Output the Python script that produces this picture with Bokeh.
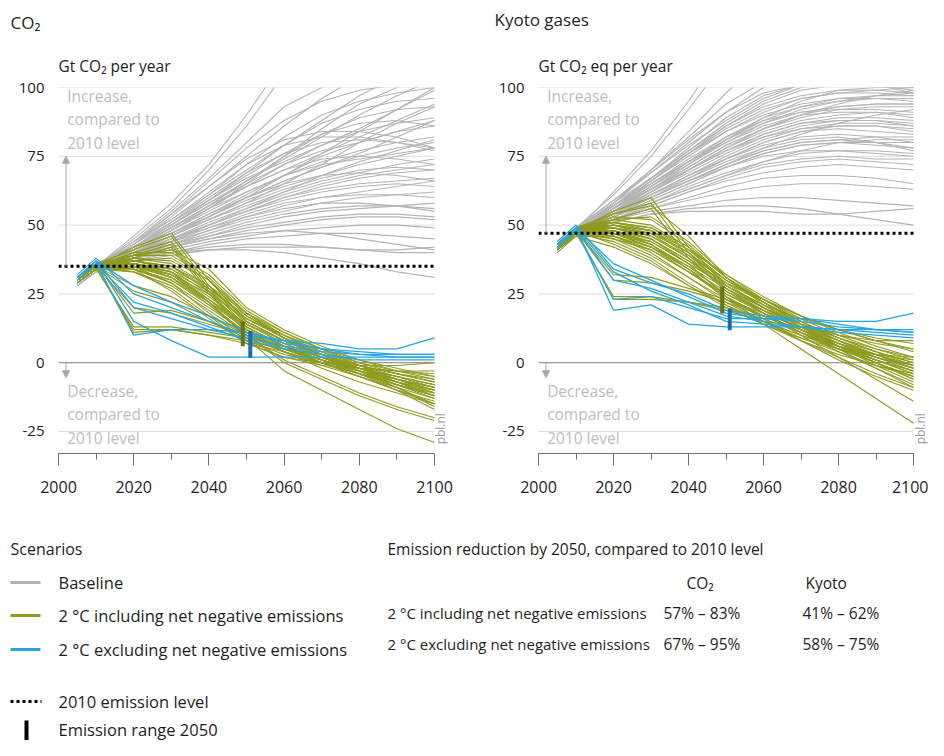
import math
from bokeh.plotting import figure
from bokeh.layouts import row, column
from bokeh.models import Range1d, Label, Arrow, NormalHead, FixedTicker
from bokeh.embed import file_html
from bokeh.resources import INLINE

# ---------------- data ----------------
YEARS = [2005, 2010, 2020, 2030, 2040, 2050, 2060, 2070, 2080, 2090, 2100]
X_TICKS = [2000, 2020, 2040, 2060, 2080, 2100]
X_MINOR = [2010, 2030, 2050, 2070, 2090]
Y_TICKS = [-25, 0, 25, 50, 75, 100]
Y_LABELS = ["-25", "0", "25", "50", "75", "100"]

CO2_2010 = 35
KYOTO_2010 = 47

CO2_BASELINE = [
    [30, 35, 46, 58, 72, 90, 110, 125, 135, 140, 145],
    [30, 35, 45, 56, 70, 86, 105, 120, 130, 138, 142],
    [29, 34, 43, 53, 64, 75, 86, 96, 104, 110, 115],
    [30, 35, 44, 52, 61, 70, 79, 88, 97, 104, 108],
    [29, 34, 42, 50, 58, 66, 74, 82, 90, 97, 103],
    [30, 35, 43, 51, 59, 67, 73, 79, 85, 92, 99],
    [28, 33, 41, 49, 57, 64, 70, 76, 82, 88, 94],
    [29, 34, 42, 50, 58, 65, 72, 77, 80, 84, 88],
    [30, 35, 42, 49, 56, 62, 68, 73, 77, 80, 82],
    [29, 34, 41, 48, 55, 62, 68, 72, 74, 76, 78],
    [30, 35, 41, 47, 53, 59, 64, 68, 72, 75, 78],
    [30, 35, 42, 49, 57, 64, 70, 74, 75, 74, 72],
    [29, 34, 40, 46, 52, 58, 63, 67, 70, 71, 70],
    [30, 35, 41, 47, 54, 60, 65, 68, 69, 68, 66],
    [28, 33, 39, 45, 51, 56, 61, 65, 68, 70, 72],
    [29, 34, 40, 45, 50, 55, 59, 62, 64, 65, 64],
    [30, 35, 40, 45, 50, 55, 60, 64, 67, 69, 70],
    [29, 34, 39, 44, 49, 54, 58, 60, 61, 61, 60],
    [30, 35, 40, 44, 48, 52, 55, 58, 60, 61, 62],
    [28, 33, 38, 43, 48, 53, 56, 58, 58, 57, 55],
    [29, 34, 39, 43, 47, 51, 54, 56, 57, 57, 56],
    [30, 35, 39, 43, 46, 49, 51, 53, 54, 54, 53],
    [29, 34, 38, 42, 45, 48, 50, 52, 53, 53, 52],
    [30, 34, 38, 41, 44, 46, 48, 49, 50, 50, 49],
    [29, 33, 37, 40, 43, 45, 46, 47, 47, 46, 45],
    [30, 35, 39, 42, 45, 47, 48, 47, 45, 43, 41],
    [29, 34, 38, 40, 42, 43, 43, 42, 41, 40, 40],
    [30, 35, 38, 40, 41, 41, 40, 38, 36, 33, 31],
    [29, 34, 37, 39, 41, 42, 42, 42, 41, 41, 42],
    [30, 35, 41, 48, 56, 65, 75, 85, 94, 100, 105],
    [29, 34, 42, 51, 61, 72, 82, 90, 95, 98, 100],
    [30, 35, 40, 46, 53, 60, 68, 76, 84, 92, 100],
    [29, 34, 40, 46, 52, 58, 65, 72, 80, 87, 93],
    [30, 35, 41, 47, 53, 60, 66, 71, 76, 82, 88],
    [28, 33, 38, 44, 50, 56, 62, 68, 73, 77, 81],
    [30, 35, 43, 52, 62, 72, 79, 82, 82, 80, 77],
    [29, 34, 42, 51, 60, 69, 76, 80, 81, 80, 78],
    [30, 35, 44, 54, 64, 74, 81, 84, 84, 82, 78],
    [30, 35, 44, 55, 67, 80, 93, 100, 104, 106, 107],
    [29, 34, 43, 54, 66, 78, 88, 95, 99, 101, 102],
    [30, 35, 42, 50, 59, 69, 79, 87, 92, 95, 96],
    [29, 34, 41, 49, 57, 66, 75, 83, 89, 92, 93],
    [30, 35, 42, 50, 59, 68, 76, 83, 87, 88, 86],
    [29, 34, 41, 48, 56, 64, 72, 79, 84, 87, 89],
    [30, 35, 41, 47, 54, 61, 68, 75, 80, 84, 86],
    [29, 34, 40, 46, 53, 60, 66, 71, 75, 78, 80],
    [30, 35, 40, 46, 52, 57, 62, 66, 69, 72, 74],
    [29, 34, 39, 45, 50, 55, 60, 63, 65, 66, 67],
    [30, 35, 40, 45, 49, 53, 57, 60, 62, 64, 66],
    [28, 33, 38, 42, 46, 50, 53, 55, 56, 57, 58],
]

CO2_INCL = [
    [30, 35, 42, 47, 30, 15, 8, 3, -2, -7, -12],
    [31, 36, 41, 46, 28, 14, 7, 2, -3, -8, -13],
    [30, 35, 40, 44, 27, 13, 6, 1, -4, -9, -15],
    [30, 35, 12, 12, 10, 8, 5, 1, -3, -6, -9],
    [29, 34, 13, 13, 11, 9, 6, 2, -2, -5, -8],
    [30, 36, 11, 12, 10, 7, 4, 0, -4, -8, -12],
    [31, 36, 18, 19, 15, 10, 6, 2, -2, -5, -8],
    [30, 35, 20, 18, 14, 10, 6, 2, -1, -4, -7],
    [30, 35, 36, 33, 24, 14, 7, 2, -2, -5, -8],
    [31, 36, 37, 35, 26, 15, 8, 3, -1, -4, -7],
    [30, 35, 35, 31, 22, 12, 5, 0, -4, -8, -11],
    [29, 34, 35, 32, 25, 16, 9, 3, -2, -6, -10],
    [30, 35, 34, 29, 20, 11, 5, 0, -4, -7, -10],
    [31, 36, 38, 36, 28, 16, 9, 4, 0, -3, -6],
    [30, 35, 36, 34, 27, 17, 10, 4, -1, -5, -9],
    [29, 34, 33, 28, 19, 10, 4, -1, -5, -9, -13],
    [30, 35, 37, 34, 25, 13, 6, 1, -3, -7, -10],
    [31, 36, 36, 32, 23, 12, 6, 1, -3, -6, -9],
    [30, 35, 34, 30, 21, 11, 4, -2, -7, -11, -15],
    [29, 34, 36, 33, 23, 13, 6, 0, -5, -10, -14],
    [30, 35, 38, 37, 30, 18, 10, 3, -3, -9, -16],
    [30, 35, 36, 33, 22, 9, -3, -10, -17, -24, -29],
    [30, 35, 36, 32, 22, 10, 0, -6, -12, -17, -21],
    [29, 34, 35, 31, 21, 10, 1, -5, -11, -16, -20],
    [31, 36, 39, 39, 31, 18, 9, 2, -3, -8, -12],
    [30, 35, 40, 40, 32, 19, 11, 5, 0, -4, -7],
    [30, 35, 39, 41, 34, 20, 12, 6, 1, -3, -5],
    [29, 34, 37, 38, 30, 17, 9, 3, -1, -4, -6],
    [30, 35, 35, 29, 18, 8, 3, 0, -2, -3, -4],
    [30, 35, 33, 27, 17, 7, 2, -1, -2, -3, -3],
    [31, 36, 34, 26, 16, 7, 2, 0, -1, -1, 0],
    [30, 35, 39, 43, 26, 12, 6, 2, -2, -6, -9],
    [29, 34, 38, 42, 25, 11, 5, 1, -3, -7, -11],
    [30, 35, 28, 24, 17, 10, 5, 1, -3, -6, -10],
    [30, 35, 26, 22, 15, 9, 4, 0, -4, -8, -12],
    [31, 36, 37, 35, 27, 16, 10, 5, 1, -2, -5],
    [30, 35, 36, 33, 26, 15, 8, 2, -4, -10, -17],
    [29, 34, 34, 30, 22, 13, 6, 0, -5, -10, -15],
    [30, 35, 37, 35, 28, 18, 11, 5, -1, -6, -11],
    [30, 35, 36, 31, 23, 14, 8, 3, -2, -7, -12],
]

CO2_EXCL = [
    [31, 37, 15, 8, 2, 2, 2, 2, 2, 2, 2],
    [30, 36, 10, 12, 12, 11, 7, 5, 4, 3, 3],
    [32, 38, 25, 20, 15, 10, 8, 7, 5, 5, 9],
    [31, 37, 28, 22, 17, 11, 8, 5, 3, 2, 2],
    [30, 36, 22, 18, 13, 8, 5, 3, 1, 1, 1],
    [31, 37, 20, 16, 12, 9, 6, 4, 3, 3, 3],
]

KYOTO_BASELINE = [
    [42, 48, 62, 77, 95, 115, 130, 140, 145, 148, 150],
    [43, 49, 61, 75, 92, 110, 125, 135, 140, 143, 145],
    [41, 47, 58, 70, 84, 98, 110, 118, 122, 124, 125],
    [42, 48, 58, 69, 80, 91, 100, 106, 110, 112, 113],
    [43, 49, 59, 69, 79, 88, 96, 101, 104, 105, 104],
    [41, 47, 56, 66, 76, 86, 94, 99, 101, 101, 100],
    [42, 48, 57, 67, 77, 87, 95, 100, 102, 101, 98],
    [42, 48, 57, 66, 75, 84, 91, 96, 98, 98, 97],
    [41, 47, 56, 65, 74, 82, 89, 93, 95, 96, 96],
    [43, 49, 58, 67, 76, 84, 90, 94, 96, 96, 95],
    [42, 48, 56, 64, 72, 80, 87, 92, 95, 97, 98],
    [41, 47, 55, 63, 71, 79, 85, 89, 92, 93, 93],
    [42, 48, 55, 62, 70, 78, 84, 88, 90, 91, 90],
    [43, 49, 57, 65, 73, 80, 86, 90, 91, 91, 89],
    [42, 47, 54, 62, 70, 77, 83, 87, 89, 89, 88],
    [41, 47, 54, 61, 68, 75, 81, 85, 87, 87, 86],
    [42, 48, 55, 62, 69, 76, 82, 86, 88, 88, 86],
    [42, 48, 54, 61, 68, 74, 79, 82, 83, 82, 80],
    [41, 47, 53, 60, 66, 72, 77, 80, 81, 80, 78],
    [43, 49, 55, 61, 67, 73, 78, 81, 82, 80, 77],
    [42, 48, 54, 60, 66, 71, 75, 77, 77, 76, 75],
    [41, 46, 52, 58, 64, 69, 73, 76, 77, 77, 76],
    [42, 48, 53, 58, 63, 68, 72, 74, 75, 74, 74],
    [42, 47, 52, 57, 62, 66, 69, 71, 72, 71, 70],
    [41, 47, 52, 56, 60, 64, 67, 68, 68, 67, 65],
    [43, 48, 52, 56, 59, 62, 64, 65, 65, 64, 63],
    [42, 48, 52, 55, 57, 59, 60, 60, 59, 58, 57],
    [41, 47, 51, 54, 56, 57, 57, 56, 54, 52, 50],
    [42, 47, 51, 54, 55, 55, 55, 54, 54, 55, 56],
    [42, 48, 55, 63, 72, 81, 89, 95, 99, 100, 100],
    [41, 47, 56, 66, 76, 85, 92, 96, 98, 99, 100],
    [42, 48, 57, 67, 78, 89, 97, 101, 103, 102, 100],
    [43, 49, 56, 63, 70, 77, 82, 85, 86, 86, 85],
    [42, 48, 54, 60, 66, 72, 77, 80, 81, 82, 82],
    [41, 47, 53, 59, 65, 71, 76, 79, 80, 80, 80],
    [42, 48, 56, 64, 73, 82, 88, 91, 92, 92, 91],
    [42, 47, 55, 63, 71, 79, 85, 90, 94, 97, 99],
    [41, 47, 54, 60, 66, 72, 78, 83, 87, 90, 92],
    [42, 48, 58, 70, 82, 94, 102, 106, 108, 108, 107],
    [43, 49, 59, 70, 81, 91, 98, 101, 102, 101, 99],
    [42, 48, 57, 67, 77, 86, 93, 97, 99, 99, 98],
    [41, 47, 55, 64, 73, 81, 88, 93, 96, 97, 97],
    [42, 48, 56, 65, 73, 81, 87, 91, 93, 94, 94],
    [42, 47, 54, 62, 70, 78, 85, 90, 93, 94, 94],
    [43, 49, 56, 63, 70, 77, 83, 87, 88, 88, 87],
    [41, 47, 53, 60, 67, 74, 80, 84, 86, 86, 84],
    [42, 48, 54, 61, 68, 74, 80, 84, 85, 84, 83],
    [42, 48, 53, 59, 65, 71, 76, 79, 80, 79, 78],
    [41, 47, 52, 57, 62, 67, 71, 73, 74, 73, 72],
    [42, 48, 53, 58, 63, 68, 73, 77, 80, 81, 81],
]

KYOTO_INCL = [
    [42, 48, 55, 60, 42, 28, 20, 13, 7, 2, -2],
    [43, 49, 54, 58, 40, 27, 19, 12, 6, 1, -3],
    [41, 47, 52, 56, 38, 26, 18, 11, 5, 0, -5],
    [42, 48, 23, 23, 22, 20, 16, 11, 6, 2, -2],
    [41, 47, 24, 24, 22, 19, 15, 10, 5, 1, -3],
    [43, 49, 30, 29, 26, 22, 17, 12, 7, 3, -1],
    [42, 48, 32, 31, 27, 23, 18, 13, 8, 4, 0],
    [42, 48, 48, 44, 36, 28, 21, 14, 8, 3, -2],
    [43, 49, 50, 46, 38, 29, 22, 15, 9, 4, 0],
    [41, 47, 47, 42, 34, 26, 19, 12, 6, 1, -4],
    [42, 48, 49, 45, 37, 27, 20, 14, 9, 5, 2],
    [40, 46, 46, 41, 33, 24, 17, 11, 5, 0, -5],
    [42, 48, 51, 48, 40, 30, 22, 15, 9, 4, -1],
    [43, 49, 52, 50, 42, 31, 23, 16, 10, 5, 1],
    [41, 47, 48, 43, 35, 25, 18, 11, 4, -2, -8],
    [42, 48, 50, 47, 38, 27, 18, 10, 2, -6, -14],
    [42, 48, 49, 45, 36, 24, 14, 5, -4, -13, -22],
    [41, 47, 47, 43, 34, 24, 16, 8, 1, -5, -10],
    [43, 49, 48, 43, 34, 23, 15, 8, 2, -4, -9],
    [42, 48, 46, 40, 31, 22, 15, 9, 4, -1, -5],
    [42, 47, 44, 38, 29, 21, 14, 8, 3, -1, -4],
    [41, 47, 45, 41, 33, 25, 19, 14, 10, 7, 5],
    [42, 48, 47, 44, 36, 28, 21, 16, 12, 9, 7],
    [43, 49, 51, 49, 41, 30, 23, 17, 12, 8, 5],
    [42, 48, 53, 52, 43, 31, 22, 14, 8, 2, -3],
    [41, 47, 50, 48, 39, 28, 20, 13, 6, 0, -6],
    [42, 48, 46, 42, 35, 27, 20, 14, 10, 8, 8],
    [42, 48, 43, 37, 28, 20, 14, 9, 5, 3, 2],
    [41, 46, 42, 36, 28, 21, 15, 10, 6, 3, 1],
    [43, 49, 49, 46, 39, 30, 22, 14, 7, 1, -4],
    [42, 48, 52, 53, 44, 32, 23, 15, 8, 3, -2],
    [42, 48, 54, 57, 46, 31, 21, 13, 6, 0, -6],
    [41, 47, 48, 45, 37, 29, 23, 17, 12, 8, 4],
    [42, 48, 50, 48, 41, 32, 24, 17, 11, 6, 2],
    [43, 49, 47, 42, 33, 24, 17, 11, 6, 2, -1],
    [42, 48, 45, 39, 31, 23, 17, 12, 7, 3, -1],
    [41, 47, 49, 47, 40, 29, 20, 12, 5, -2, -9],
    [42, 48, 51, 49, 42, 31, 22, 14, 6, -1, -7],
]

KYOTO_EXCL = [
    [43, 49, 19, 21, 14, 13, 13, 13, 12, 12, 11],
    [42, 48, 23, 24, 20, 16, 16, 16, 14, 12, 11],
    [44, 50, 34, 29, 25, 19, 17, 16, 15, 15, 18],
    [43, 49, 36, 30, 24, 18, 16, 15, 13, 12, 12],
    [42, 48, 30, 27, 22, 17, 15, 13, 12, 11, 10],
    [43, 49, 33, 26, 21, 15, 14, 13, 11, 10, 9],
]

# 2050 emission ranges: [year, low, high]
CO2_RANGE_INCL = [2049, 6.0, 15.0]
CO2_RANGE_EXCL = [2051, 1.8, 11.5]
KYOTO_RANGE_INCL = [2049, 17.9, 27.7]
KYOTO_RANGE_EXCL = [2051, 11.8, 19.7]

SCENARIOS = ["Baseline", "2 °C including net negative emissions", "2 °C excluding net negative emissions"]
TABLE_TITLE = "Emission reduction by 2050, compared to 2010 level"
TABLE_COLS = ["CO₂", "Kyoto"]
TABLE_ROWS = ["2 °C including net negative emissions", "2 °C excluding net negative emissions"]
CO2_REDUCTION = ["57% – 83%", "67% – 95%"]
KYOTO_REDUCTION = ["41% – 62%", "58% – 75%"]

# ---------------- style ----------------
FONT = "Open Sans"
GRAY = "#b4b4b4"
GREEN = "#8e9a1e"
BLUE = "#28a5dd"
GREEN_DARK = "#6a7412"
BLUE_DARK = "#1a6eae"
NOTE_C = "#bdbdbd"
ARROW_C = "#a8a8a8"
TEXT_C = "#1e1e1e"


def lab(p, x, y, text, size="15px", color=TEXT_C, align="left", baseline="middle", angle=0.0):
    p.add_layout(Label(x=x, y=y, text=text, text_font=FONT, text_font_size=size,
                       text_color=color, text_align=align, text_baseline=baseline, angle=angle))


def blank(width, height):
    f = figure(width=width, height=height, x_range=Range1d(0, width), y_range=Range1d(0, height),
               output_backend="svg", toolbar_location=None,
               x_axis_location=None, y_axis_location=None,
               min_border_left=0, min_border_right=0, min_border_top=0, min_border_bottom=0)
    f.grid.visible = False
    f.outline_line_color = None
    return f


def panel(width, bl, x_end, base, incl, excl, level, rincl, rexcl, pbl_x):
    p = figure(width=width, height=430, x_range=Range1d(2000, x_end), y_range=Range1d(-33, 100),
               output_backend="svg", toolbar_location=None,
               min_border_left=bl, min_border_right=0, min_border_top=9, min_border_bottom=55)
    p.outline_line_color = None
    p.grid.visible = False

    # axes
    p.xaxis.ticker = FixedTicker(ticks=X_TICKS, minor_ticks=X_MINOR)
    p.xaxis.bounds = (2000, 2100)
    p.xaxis.axis_line_color = "#6e6e6e"
    p.xaxis.major_tick_line_color = "#6e6e6e"
    p.xaxis.minor_tick_line_color = "#6e6e6e"
    p.xaxis.major_tick_out = 12
    p.xaxis.major_tick_in = 0
    p.xaxis.minor_tick_out = 6
    p.xaxis.minor_tick_in = 0
    p.xaxis.major_label_standoff = 15
    p.xaxis.major_label_text_font_size = "16px"
    p.yaxis.ticker = FixedTicker(ticks=Y_TICKS)
    p.yaxis.major_label_overrides = {t: s for t, s in zip(Y_TICKS, Y_LABELS)}
    p.yaxis.axis_line_color = None
    p.yaxis.major_tick_line_color = None
    p.yaxis.minor_tick_line_color = None
    p.yaxis.major_label_standoff = 8
    p.yaxis.major_label_text_font_size = "15px"
    for ax in (p.xaxis, p.yaxis):
        ax.major_label_text_font = FONT
        ax.major_label_text_color = TEXT_C

    # grid lines (only across 2000-2100)
    p.segment(x0=[2000] * len(Y_TICKS), y0=Y_TICKS, x1=[2100] * len(Y_TICKS), y1=Y_TICKS,
              line_color="#dedede", line_width=1, level="underlay")
    p.segment(x0=[2000], y0=[0], x1=[2100], y1=[0], line_color="#9a9a9a", line_width=1.3, level="underlay")

    p.multi_line(xs=[YEARS] * len(base), ys=base, line_color=GRAY, line_width=1.1)
    p.multi_line(xs=[YEARS] * len(incl), ys=incl, line_color=GREEN, line_width=1.1)
    p.multi_line(xs=[YEARS] * len(excl), ys=excl, line_color=BLUE, line_width=1.3)

    p.segment(x0=[2000], y0=[level], x1=[2100], y1=[level], line_color="black", line_width=3, line_dash="3 3")

    p.segment(x0=[rincl[0]], y0=[rincl[1]], x1=[rincl[0]], y1=[rincl[2]], line_color=GREEN_DARK, line_width=4)
    p.segment(x0=[rexcl[0]], y0=[rexcl[1]], x1=[rexcl[0]], y1=[rexcl[2]], line_color=BLUE_DARK, line_width=4)

    p.add_layout(Arrow(end=NormalHead(size=7, fill_color=ARROW_C, line_color=ARROW_C),
                       x_start=2002, y_start=level, x_end=2002, y_end=75, line_color=ARROW_C, line_width=1))
    p.add_layout(Arrow(end=NormalHead(size=7, fill_color=ARROW_C, line_color=ARROW_C),
                       x_start=2002, y_start=0, x_end=2002, y_end=-5.5, line_color=ARROW_C, line_width=1))

    for y, t in zip([97.0, 88.7, 79.9], ["Increase,", "compared to", "2010 level"]):
        lab(p, 2002.3, y, t, size="15.5px", color=NOTE_C)
    for y, t in zip([-10.2, -18.5, -27.3], ["Decrease,", "compared to", "2010 level"]):
        lab(p, 2002.3, y, t, size="15.5px", color=NOTE_C)

    lab(p, pbl_x, -24, "pbl.nl", size="12px", color="#9a9a9a", align="center", angle=math.pi / 2)
    return p


# left panel: frame starts at x=58, 3.76 px/yr; right panel: frame starts at 538, 3.75 px/yr
left = panel(466, 58, 2108.5, CO2_BASELINE, CO2_INCL, CO2_EXCL,
             CO2_2010, CO2_RANGE_INCL, CO2_RANGE_EXCL, 2101.7)
right = panel(462, 72, 2104.0, KYOTO_BASELINE, KYOTO_INCL, KYOTO_EXCL,
              KYOTO_2010, KYOTO_RANGE_INCL, KYOTO_RANGE_EXCL, 2101.9)

# ---------------- header ----------------
head = blank(928, 78)
lab(head, 10, 56, "CO₂", size="17px")
lab(head, 58, 13, "Gt CO₂ per year", size="15.5px")
lab(head, 494, 59, "Kyoto gases", size="17px")
lab(head, 538, 13, "Gt CO₂ eq per year", size="15.5px")

# ---------------- legend / table ----------------
leg = blank(928, 232)
lab(leg, 10, 192, "Scenarios", size="16px")
for y, t, c in zip([158, 125, 91], SCENARIOS, [GRAY, GREEN, BLUE]):
    leg.segment(x0=[10], y0=[y], x1=[40], y1=[y], line_color=c, line_width=3)
    lab(leg, 58, y, t, size="16.5px")

leg.segment(x0=[10], y0=[39], x1=[41], y1=[39], line_color="black", line_width=3, line_dash="3 3")
lab(leg, 58, 39, "2010 emission level", size="16.5px")
leg.segment(x0=[26], y0=[0], x1=[26], y1=[20], line_color="black", line_width=4)
lab(leg, 58, 11, "Emission range 2050", size="16.5px")

lab(leg, 387, 192, TABLE_TITLE, size="15.5px")
lab(leg, 686, 158, TABLE_COLS[0], size="15.5px")
lab(leg, 805, 158, TABLE_COLS[1], size="15.5px")
for y, r, a, b in zip([128, 97], TABLE_ROWS, CO2_REDUCTION, KYOTO_REDUCTION):
    lab(leg, 387, y, r, size="15px")
    lab(leg, 663, y, a, size="15.5px")
    lab(leg, 802, y, b, size="15.5px")

layout = column(head, row(left, right, spacing=0), leg, spacing=0)
open("out.html", "w").write(file_html(layout, INLINE))
